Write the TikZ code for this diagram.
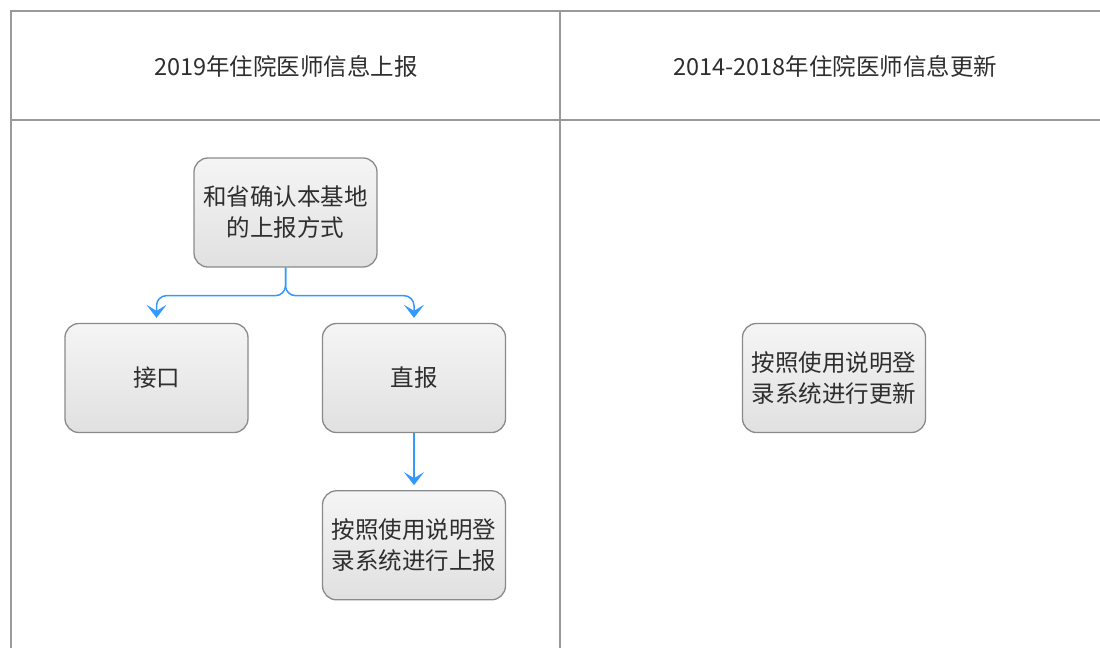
\documentclass[tikz,border=0pt]{standalone}
\usepackage{fontspec}
\setmainfont{Noto Sans CJK SC}
\usepackage{xcolor}
\usepackage{tikz}
\usetikzlibrary{arrows.meta,positioning}

\definecolor{gridgray}{HTML}{9A9A9A}
\definecolor{boxline}{HTML}{8A8A8A}
\definecolor{flowblue}{HTML}{3399FF}
\definecolor{txtgray}{HTML}{2E2E2E}

\begin{document}
\begin{tikzpicture}[x=1pt,y=-1pt,>={Stealth[length=13pt,width=20pt,inset=6pt]}]
      \tikzstyle{grid}=[draw=gridgray, line width=1.6pt]
      \tikzstyle{stepbox}=[draw=boxline, line width=1.3pt, top color=black!4, bottom color=black!12,
        minimum width=183pt, minimum height=109pt, rounded corners=14pt, align=center,
        text=txtgray, font=\fontsize{23.5}{31}\selectfont, inner sep=1pt]
      \tikzstyle{head_text}=[text=txtgray, font=\fontsize{23.5}{28}\selectfont]
      \tikzstyle{flow}=[draw=flowblue, line width=1.5pt, rounded corners=10pt, ->, shorten >=5pt]

      \useasboundingbox (0,0) rectangle (1100,648);

      \draw[grid] (11,648) -- (11,11) -- (1100,11);
      \draw[grid] (11,120) -- (1100,120);
      \draw[grid] (560,11) -- (560,648);

      \begin{scope}
        \node (head2019) at (286,66) [head_text] {2019年住院医师信息上报};

        \node (confirm) at (285.5,212.5) [stepbox] {和省确认本基地\\的上报方式};
        \node (iface) at (156.5,378) [stepbox] {接口};
        \node (direct) at (414,378) [stepbox] {直报};
        \node (upload) [stepbox,below=57pt of direct] {按照使用说明登\\录系统进行上报};

        \draw[flow] (confirm.south) -- ++(0,28) -| (iface.north);
        \draw[flow] (confirm.south) -- ++(0,28) -| (direct.north);
        \draw[flow] (direct.south) -- (upload.north);
      \end{scope}

      \begin{scope}
        \node (head2014) at (835,66) [head_text] {2014-2018年住院医师信息更新};

        \node (update) at (834,378) [stepbox] {按照使用说明登\\录系统进行更新};
      \end{scope}
    \end{tikzpicture}
\end{document}
